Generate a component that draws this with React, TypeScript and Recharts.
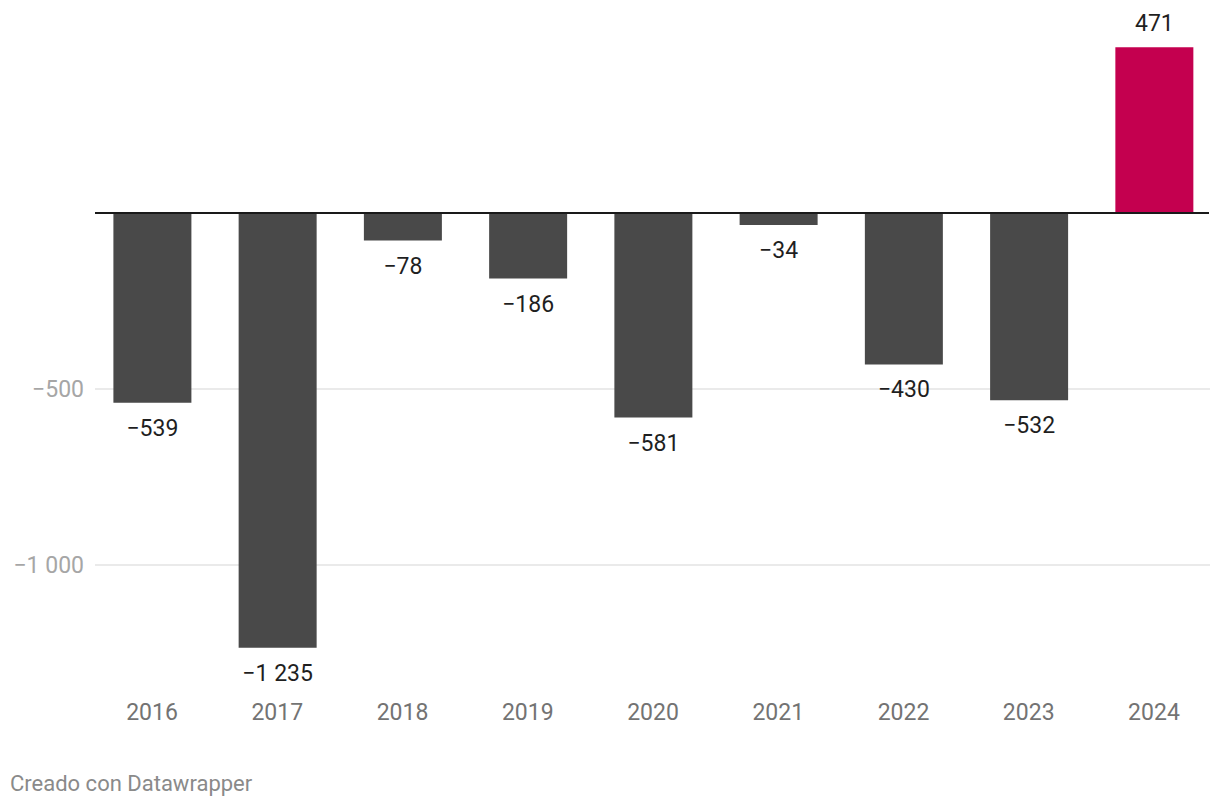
import React from 'react';
import {
  BarChart,
  Bar,
  Cell,
  XAxis,
  YAxis,
  CartesianGrid,
  ReferenceLine,
  LabelList
} from 'recharts';

// Yearly balance values
const years = ['2016', '2017', '2018', '2019', '2020', '2021', '2022', '2023', '2024'];
const values = [-539, -1235, -78, -186, -581, -34, -430, -532, 471];
const yTicks = [-1000, -500, 0];
const gridValues = [-1000, -500];

const BAR_COLOR = '#494949';
const HIGHLIGHT_COLOR = '#c4004f';
const FONT = 'Roboto, "Noto Sans", sans-serif';

const data = years.map((year, i) => ({ year, value: values[i] }));

// Spanish style: typographic minus and space as thousands separator
const fmt = (v: number) => {
  const abs = Math.abs(v).toString().replace(/\B(?=(\d{3})+(?!\d))/g, ' ');
  return (v < 0 ? '\u2212' : '') + abs;
};

const YTick = (props: any) => {
  const { y, payload } = props;
  if (payload.value === 0) return null;
  return (
    <text x={84} y={y} dy="0.35em" textAnchor="end" fill="#a6a6a6" fontSize={23} fontFamily={FONT}>
      {fmt(payload.value)}
    </text>
  );
};

const XTick = (props: any) => {
  const { x, payload } = props;
  return (
    <text x={x} y={712} dy="0.35em" textAnchor="middle" fill="#737373" fontSize={23} fontFamily={FONT}>
      {payload.value}
    </text>
  );
};

// only the -500 / -1000 lines, drawn a bit inside the plot edges
const GridLine = (props: any) => {
  const { y1, y2 } = props;
  if (y1 < 250 || y1 > 680) return <g />;
  return <line x1={95} x2={1210} y1={y1} y2={y2} stroke="#e3e3e3" strokeWidth={1.5} />;
};

const ZeroLine = (props: any) => {
  const { y1, y2 } = props;
  return <line x1={95} x2={1209} y1={y1} y2={y2} stroke="#1a1a1a" strokeWidth={2} />;
};

const ValueLabel = (props: any) => {
  const { x, y, width, height, value } = props;
  const top = Math.min(y, y + height);
  const bottom = Math.max(y, y + height);
  const ly = value < 0 ? bottom + 25 : top - 24;
  return (
    <text x={x + width / 2} y={ly} dy="0.35em" textAnchor="middle" fill="#1f1f1f" fontSize={23} fontFamily={FONT}>
      {fmt(value)}
    </text>
  );
};

const App = () => (
  <div style={{ position: 'absolute', left: 0, top: 0, width: 1220, height: 808, background: '#fff' }}>
    <BarChart
      width={1220}
      height={808}
      data={data}
      margin={{ top: 30, right: 3.4, bottom: 89.76, left: 9.4 }}
      barCategoryGap={0}
    >
      <CartesianGrid vertical={false} horizontal={GridLine} horizontalValues={gridValues} />
      <XAxis dataKey="year" axisLine={false} tickLine={false} tick={XTick} interval={0} height={30} />
      <YAxis
        width={80}
        domain={[-1350, 520]}
        ticks={yTicks}
        axisLine={false}
        tickLine={false}
        tick={YTick}
      />
      <Bar dataKey="value" barSize={78} isAnimationActive={false}>
        {data.map((d, i) => (
          <Cell key={`cell-${i}`} fill={d.year === '2024' ? HIGHLIGHT_COLOR : BAR_COLOR} />
        ))}
        <LabelList dataKey="value" content={ValueLabel} />
      </Bar>
      <ReferenceLine y={0} shape={ZeroLine} />
    </BarChart>
    <div
      style={{
        position: 'absolute',
        left: 10,
        top: 771,
        fontFamily: FONT,
        fontSize: 22,
        color: '#8a8a8a'
      }}
    >
      Creado con Datawrapper
    </div>
  </div>
);

export default App;
